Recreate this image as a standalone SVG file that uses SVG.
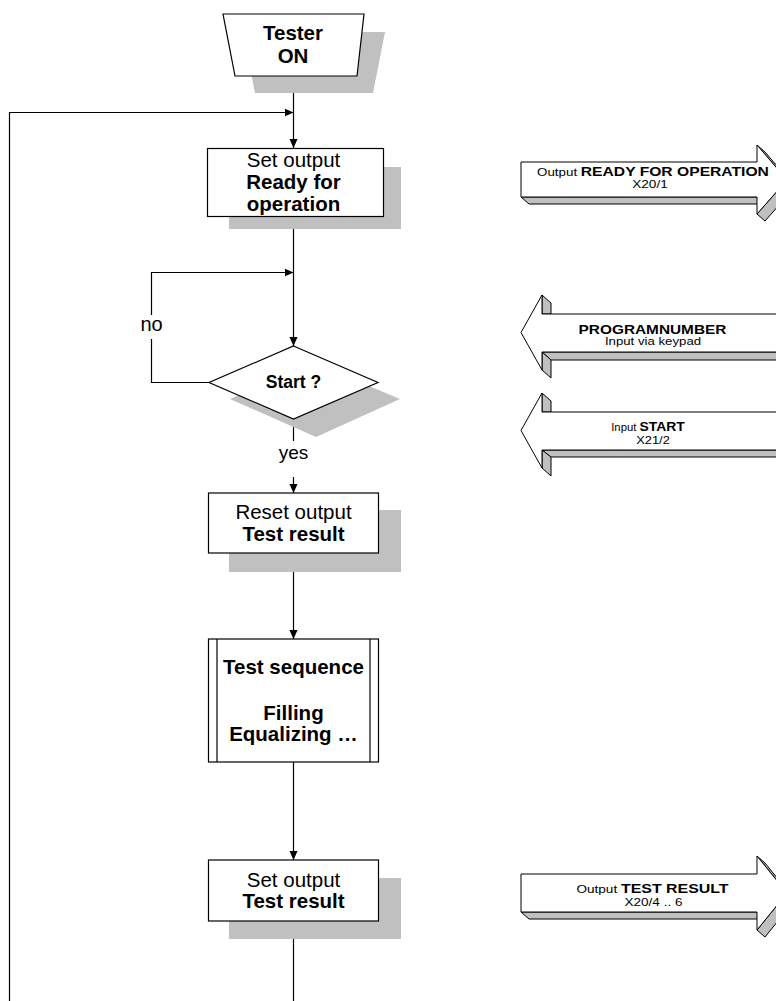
<svg xmlns="http://www.w3.org/2000/svg" width="776" height="1001" viewBox="0 0 776 1001">
<style>
text{font-family:"Liberation Sans",Arial,sans-serif;fill:#000}
.lbl{font-size:20.5px;text-anchor:middle}
.b{font-weight:bold}
.shadow{fill:#c0c0c0;stroke:none}
.box{fill:#fff;stroke:#000;stroke-width:1.2}
.con{fill:none;stroke:#000;stroke-width:1.2}
.face{fill:#c0c0c0;stroke:#000;stroke-width:1;stroke-linejoin:round}
.arr{fill:#fff;stroke:#000;stroke-width:1;stroke-linejoin:round}
.at{text-anchor:middle}
</style>
<defs>
<marker id="ah" viewBox="0 0 10 10" refX="10" refY="5" markerWidth="9" markerHeight="9" markerUnits="userSpaceOnUse" orient="auto">
<path d="M0,0.5 L10,5 L0,9.5 z" fill="#000"/>
</marker>
</defs>
<rect width="776" height="1001" fill="#fff"/>
<g id="connectors">
<path class="con" d="M293.5,76 V148" marker-end="url(#ah)"/>
<path class="con" d="M9.5,1001 V112.5 H293.5" marker-end="url(#ah)"/>
<path class="con" d="M293.5,217 V346" marker-end="url(#ah)"/>
<path class="con" d="M209,382.5 H151.5 V339"/>
<path class="con" d="M151.5,315 V272.5 H293.5" marker-end="url(#ah)"/>
<path class="con" d="M293.5,419 V441"/>
<path class="con" d="M293.5,477 V493" marker-end="url(#ah)"/>
<path class="con" d="M293.5,553 V639" marker-end="url(#ah)"/>
<path class="con" d="M293.5,762 V860" marker-end="url(#ah)"/>
<path class="con" d="M293.5,921 V1001"/>
<text class="lbl" x="151.5" y="331" style="font-size:20px">no</text>
<text class="lbl" x="293.5" y="459" style="font-size:19px">yes</text>
</g>
<g id="tester_on">
<polygon class="shadow" points="243,32 385,32 373,93 255,93"/>
<polygon class="box" points="223,14 364,14 357,76 235,76"/>
<text class="lbl b" x="293" y="40">Tester</text>
<text class="lbl b" x="293" y="63">ON</text>
</g>
<g id="set_ready">
<rect class="shadow" x="229" y="167" width="172" height="62"/>
<rect class="box" x="207.5" y="148.5" width="176" height="68"/>
<text class="lbl" x="293.5" y="167">Set output</text>
<text class="lbl b" x="293.5" y="189">Ready for</text>
<text class="lbl b" x="293.5" y="211">operation</text>
</g>
<g id="start_decision">
<polygon class="shadow" points="314,363 400,399 316,437 230,399"/>
<polygon class="box" points="293.5,346 378,382.5 293.5,419 209,382.5"/>
<text class="lbl b" x="293.5" y="388" style="font-size:17.5px">Start ?</text>
</g>
<g id="reset_result">
<rect class="shadow" x="229" y="510" width="172" height="62"/>
<rect class="box" x="208.5" y="493" width="170" height="60"/>
<text class="lbl" x="293.5" y="519">Reset output</text>
<text class="lbl b" x="293.5" y="541">Test result</text>
</g>
<g id="test_sequence">
<rect class="box" x="208.5" y="639" width="170" height="123"/>
<line class="con" x1="217" y1="639" x2="217" y2="762"/>
<line class="con" x1="370" y1="639" x2="370" y2="762"/>
<text class="lbl b" x="293.5" y="674">Test sequence</text>
<text class="lbl b" x="293.5" y="720">Filling</text>
<text class="lbl b" x="293.5" y="741">Equalizing …</text>
</g>
<g id="set_result">
<rect class="shadow" x="229" y="878" width="172" height="61"/>
<rect class="box" x="208.5" y="860" width="170" height="61"/>
<text class="lbl" x="293.5" y="887">Set output</text>
<text class="lbl b" x="293.5" y="908">Test result</text>
</g>
<g id="out_ready">
<polygon class="face" points="521,197 757,197 765,204 529,204"/>
<polygon class="face" points="757,145 787,180 795,187 765,152"/>
<polygon class="face" points="757,214 787,180 795,187 765,221"/>
<polygon class="arr" points="521,162 757,162 757,145 787,180 757,214 757,197 521,197"/>
<text class="at" transform="translate(653,176) scale(1.16,1)"><tspan font-size="11.5">Output </tspan><tspan class="b" font-size="13.5">READY FOR OPERATION</tspan></text>
<text class="at" transform="translate(650,188) scale(1.18,1)" font-size="11.5">X20/1</text>
</g>
<g id="in_program">
<polygon class="face" points="542,295 551,303 551,314 542,314"/>
<polygon class="face" points="542,352 780,352 780,360 551,360"/>
<polygon class="face" points="542,352 551,360 551,378 542,370"/>
<polygon class="arr" points="780,314 542,314 542,295 521,332.5 542,370 542,352 780,352"/>
<text class="at b" transform="translate(652.5,334) scale(1.14,1)" font-size="13.5">PROGRAMNUMBER</text>
<text class="at" transform="translate(653,345) scale(1.15,1)" font-size="11.5">Input via keypad</text>
</g>
<g id="in_start">
<polygon class="face" points="542,393 551,401 551,412 542,412"/>
<polygon class="face" points="542,450 780,450 780,457 551,457"/>
<polygon class="face" points="542,450 551,457 551,476 542,468"/>
<polygon class="arr" points="780,412 542,412 542,393 521,430.5 542,468 542,450 780,450"/>
<text class="at" transform="translate(648,431) scale(1.03,1)"><tspan font-size="11">Input </tspan><tspan class="b" font-size="13.5">START</tspan></text>
<text class="at" transform="translate(653,444) scale(1.12,1)" font-size="11.5">X21/2</text>
</g>
<g id="out_result">
<polygon class="face" points="521,912 757,912 765,919 529,919"/>
<polygon class="face" points="757,856 787,893 795,900 765,863"/>
<polygon class="face" points="757,930 787,893 795,900 765,937"/>
<polygon class="arr" points="521,874 757,874 757,856 787,893 757,930 757,912 521,912"/>
<text class="at" transform="translate(652.5,893) scale(1.18,1)"><tspan font-size="11.5">Output </tspan><tspan class="b" font-size="13.5">TEST RESULT</tspan></text>
<text class="at" transform="translate(653.5,906) scale(1.18,1)" font-size="11.5">X20/4 .. 6</text>
</g>
</svg>
